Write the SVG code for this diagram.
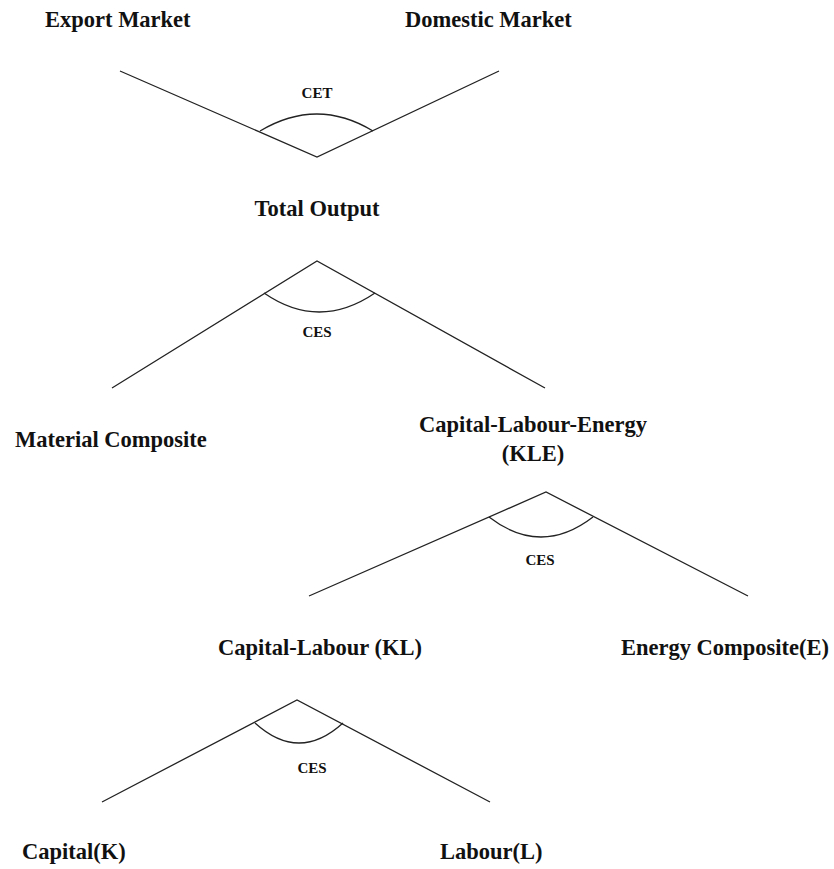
<svg xmlns="http://www.w3.org/2000/svg" width="834" height="869" viewBox="0 0 834 869">
<style>
.lbl{font-family:"Liberation Serif","Times New Roman",serif;font-weight:bold;font-size:22.5px;fill:#111}
.fn{font-family:"Liberation Serif","Times New Roman",serif;font-weight:bold;font-size:15px;fill:#111;text-anchor:middle}
.ln{fill:none;stroke:#222;stroke-width:1.3}
</style>
<rect width="834" height="869" fill="#fff"/>
<g id="connectors">
<polyline class="ln" points="120,71 317,157 499,71"/>
<path class="ln" d="M260,131 Q317,97 373,131"/>
<polyline class="ln" points="112,388 317,261 545,388"/>
<path class="ln" d="M264,293 Q319,331 375,293"/>
<polyline class="ln" points="309,596 546,492 748,596"/>
<path class="ln" d="M489,517 Q541,557 593,517"/>
<polyline class="ln" points="102,802 297,700 490,802"/>
<path class="ln" d="M255,723 Q299,763 343,723"/>
</g>
<g id="fn-cet"><text class="fn" x="317" y="98">CET</text></g>
<g id="fn-ces1"><text class="fn" x="317" y="337">CES</text></g>
<g id="fn-ces2"><text class="fn" x="540" y="565">CES</text></g>
<g id="fn-ces3"><text class="fn" x="312" y="773">CES</text></g>
<g id="export"><text class="lbl" x="45" y="27">Export Market</text></g>
<g id="domestic"><text class="lbl" x="405" y="27">Domestic Market</text></g>
<g id="total"><text class="lbl" x="317" y="216" text-anchor="middle">Total Output</text></g>
<g id="material"><text class="lbl" x="15" y="447">Material Composite</text></g>
<g id="kle"><text class="lbl" x="533" y="432" text-anchor="middle">Capital-Labour-Energy</text><text class="lbl" x="533" y="461" text-anchor="middle">(KLE)</text></g>
<g id="kl"><text class="lbl" x="218" y="655">Capital-Labour (KL)</text></g>
<g id="energy"><text class="lbl" x="829" y="655" text-anchor="end">Energy Composite(E)</text></g>
<g id="capital"><text class="lbl" x="22" y="859">Capital(K)</text></g>
<g id="labour"><text class="lbl" x="440" y="859">Labour(L)</text></g>
</svg>
